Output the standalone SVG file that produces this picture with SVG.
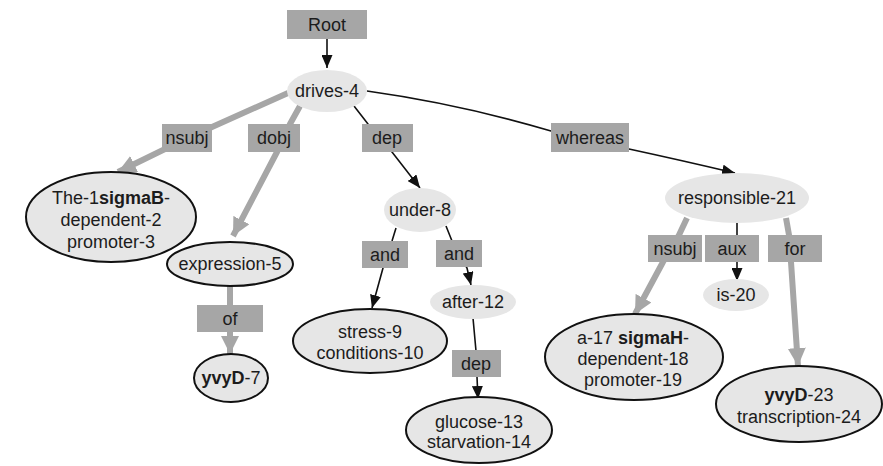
<svg xmlns="http://www.w3.org/2000/svg" width="883" height="466" viewBox="0 0 883 466">
  <style>
    text { font-family: "Liberation Sans", Arial, Helvetica, sans-serif; font-size: 18px; fill: #1c1c1c; text-anchor: middle; }
    .b { font-weight: bold; }
    .lbl rect { fill: #a6a6a6; }
    .word { fill: #e6e6e6; stroke: none; }
    .phrase { fill: #e6e6e6; stroke: #111; stroke-width: 2; }
    .thin { fill: none; stroke: #111; stroke-width: 1.6; }
    .thick { fill: none; stroke: #a6a6a6; stroke-width: 6; stroke-linejoin: round; }
  </style>
  <defs>
    <marker id="ah" markerUnits="userSpaceOnUse" markerWidth="13" markerHeight="11" refX="13" refY="5.5" orient="auto">
      <path d="M0,0 L13,5.5 L0,11 z" fill="#111"/>
    </marker>
    <marker id="ahg" markerUnits="userSpaceOnUse" markerWidth="18" markerHeight="18" refX="18" refY="9" orient="auto">
      <path d="M0,0 L18,9 L0,18 z" fill="#a6a6a6"/>
    </marker>
  </defs>
  <rect width="883" height="466" fill="#fff"/>

  <!-- connectors: each runs underneath its relation label -->
  <g id="edges">
    <path class="thin" d="M327,39 L327,68" marker-end="url(#ah)"/>
    <path class="thick" d="M288,93 L212,127 L163,150 L118,172" marker-end="url(#ahg)"/>
    <path class="thick" d="M300,106 L290,124 L277,152 L233,236" marker-end="url(#ahg)"/>
    <path class="thin" d="M354,106 L368,124 L392,152 L420,188" marker-end="url(#ah)"/>
    <path class="thin" d="M367,91 Q460,104 551,131 L629,149 Q680,160 735,173" marker-end="url(#ah)"/>
    <path class="thick" d="M230,286 L230,354" marker-end="url(#ahg)"/>
    <path class="thin" d="M396,228 L392,241 L383,268 L372,308" marker-end="url(#ah)"/>
    <path class="thin" d="M446,226 L452,241 L467,268 L471,285" marker-end="url(#ah)"/>
    <path class="thin" d="M473,318 L476,351 L477,377 L478,399" marker-end="url(#ah)"/>
    <path class="thick" d="M687,218 L679,235 L663,262 L635,314" marker-end="url(#ahg)"/>
    <path class="thin" d="M737,223 L737,262 L737,281" marker-end="url(#ah)"/>
    <path class="thick" d="M786,218 L789,235 L791,262 L798,366" marker-end="url(#ahg)"/>
  </g>

  <!-- relation labels -->
  <g id="lbl-root" class="lbl"><rect x="287" y="10" width="80" height="29"/><text x="327" y="31">Root</text></g>
  <g id="lbl-nsubj1" class="lbl"><rect x="162" y="124" width="50" height="28"/><text x="187" y="144">nsubj</text></g>
  <g id="lbl-dobj" class="lbl"><rect x="248" y="124" width="52" height="28"/><text x="274" y="144">dobj</text></g>
  <g id="lbl-dep1" class="lbl"><rect x="362" y="124" width="51" height="28"/><text x="387" y="144">dep</text></g>
  <g id="lbl-whereas" class="lbl"><rect x="551" y="123" width="78" height="29"/><text x="590" y="144">whereas</text></g>
  <g id="lbl-of" class="lbl"><rect x="197" y="305" width="66" height="27"/><text x="230" y="325">of</text></g>
  <g id="lbl-and1" class="lbl"><rect x="362" y="241" width="46" height="27"/><text x="385" y="261">and</text></g>
  <g id="lbl-and2" class="lbl"><rect x="436" y="240" width="46" height="27"/><text x="459" y="260">and</text></g>
  <g id="lbl-dep2" class="lbl"><rect x="452" y="350" width="49" height="27"/><text x="476" y="370">dep</text></g>
  <g id="lbl-nsubj2" class="lbl"><rect x="648" y="235" width="54" height="27"/><text x="675" y="255">nsubj</text></g>
  <g id="lbl-aux" class="lbl"><rect x="705" y="235" width="54" height="27"/><text x="732" y="255">aux</text></g>
  <g id="lbl-for" class="lbl"><rect x="768" y="235" width="54" height="27"/><text x="795" y="255">for</text></g>

  <!-- word nodes -->
  <g id="n-drives"><ellipse class="word" cx="327" cy="91" rx="40" ry="21"/><text x="327" y="97">drives-4</text></g>
  <g id="n-sigmaB"><ellipse class="phrase" cx="111" cy="217" rx="85" ry="45"/>
    <text x="111" y="204">The-1<tspan class="b">sigmaB</tspan>-</text>
    <text x="111" y="226">dependent-2</text>
    <text x="111" y="248">promoter-3</text></g>
  <g id="n-expression"><ellipse class="phrase" cx="230" cy="264" rx="63" ry="22"/><text x="230" y="270">expression-5</text></g>
  <g id="n-yvyD7"><ellipse class="phrase" cx="231" cy="378" rx="37" ry="24"/><text x="231" y="384"><tspan class="b">yvyD</tspan>-7</text></g>
  <g id="n-under"><ellipse class="word" cx="420" cy="210" rx="36" ry="22"/><text x="420" y="216">under-8</text></g>
  <g id="n-stress"><ellipse class="phrase" cx="370" cy="341" rx="77" ry="32"/>
    <text x="370" y="338">stress-9</text>
    <text x="370" y="359">conditions-10</text></g>
  <g id="n-after"><ellipse class="word" cx="473" cy="302" rx="43" ry="17"/><text x="473" y="308">after-12</text></g>
  <g id="n-glucose"><ellipse class="phrase" cx="479" cy="430" rx="73" ry="33"/>
    <text x="479" y="428">glucose-13</text>
    <text x="479" y="448">starvation-14</text></g>
  <g id="n-responsible"><ellipse class="word" cx="737" cy="198" rx="72" ry="25"/><text x="737" y="204">responsible-21</text></g>
  <g id="n-sigmaH"><ellipse class="phrase" cx="634" cy="357" rx="89" ry="43"/>
    <text x="633" y="344">a-17 <tspan class="b">sigmaH</tspan>-</text>
    <text x="633" y="365">dependent-18</text>
    <text x="633" y="386">promoter-19</text></g>
  <g id="n-is"><ellipse class="word" cx="736" cy="295" rx="33" ry="16"/><text x="736" y="301">is-20</text></g>
  <g id="n-yvyD23"><ellipse class="phrase" cx="799" cy="404" rx="83" ry="38"/>
    <text x="799" y="401"><tspan class="b">yvyD</tspan>-23</text>
    <text x="799" y="423">transcription-24</text></g>
</svg>
